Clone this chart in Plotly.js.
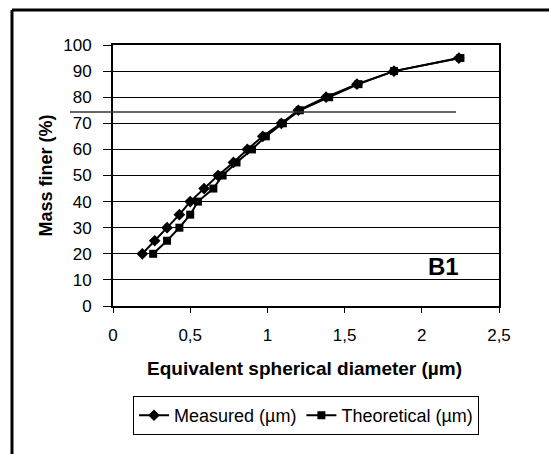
<!DOCTYPE html>
<html>
<head>
<meta charset="utf-8">
<script src="https://cdn.plot.ly/plotly-3.0.1.min.js"></script>
<style>
html,body{margin:0;padding:0;background:#fff;}
#chart{width:549px;height:454px;}
</style>
</head>
<body>
<div id="chart"></div>
<script>
var massFiner = [20,25,30,35,40,45,50,55,60,65,70,75,80,85,90,95];
var measuredDiam = [0.19,0.27,0.35,0.43,0.50,0.59,0.68,0.78,0.87,0.97,1.09,1.20,1.38,1.58,1.82,2.24];
var theoreticalDiam = [0.26,0.35,0.43,0.50,0.55,0.65,0.71,0.80,0.90,0.99,1.10,1.21,1.40,1.59,1.82,2.25];
var xTickVals = [0,0.5,1,1.5,2,2.5];
var xTickText = ['0','0,5','1','1,5','2','2,5'];
var yTickVals = [0,10,20,30,40,50,60,70,80,90,100];

var font = {family:'Liberation Sans, Arial, sans-serif', color:'#000'};

var traces = [
  {x: measuredDiam, y: massFiner, name:'Measured (µm)', type:'scatter', mode:'lines+markers',
   line:{color:'#000', width:2}, marker:{symbol:'diamond', size:9, color:'#000'}},
  {x: theoreticalDiam, y: massFiner, name:'Theoretical (µm)', type:'scatter', mode:'lines+markers',
   line:{color:'#000', width:2}, marker:{symbol:'square', size:8, color:'#000'}}
];

var layout = {
  width:549, height:454,
  margin:{l:113, r:50, t:45, b:148},
  paper_bgcolor:'#fff', plot_bgcolor:'#fff',
  font: Object.assign({size:17}, font),
  showlegend:true,
  legend:{orientation:'h', x:0.5, xanchor:'center', y:-0.345, yanchor:'top',
    bordercolor:'#000', borderwidth:1, font:Object.assign({size:18}, font),
    tracegroupgap:0},
  xaxis:{range:[0,2.5], tickvals:xTickVals, ticktext:xTickText,
    showgrid:false, zeroline:false, showline:true, linecolor:'#000', linewidth:2, mirror:true,
    ticks:'outside', ticklen:5, tickcolor:'#000', tickwidth:1, ticklabelstandoff:8,
    tickfont:Object.assign({size:17}, font)},
  yaxis:{range:[0,100], tickvals:yTickVals,
    showgrid:true, gridcolor:'#000', gridwidth:1, zeroline:false,
    showline:true, linecolor:'#000', linewidth:2, mirror:true,
    ticks:'outside', ticklen:8, tickcolor:'#000', tickwidth:1, ticklabelstandoff:8,
    tickfont:Object.assign({size:17}, font)},
  annotations:[
    {x:2.14, y:15, xref:'x', yref:'y', text:'<b>B1</b>', showarrow:false,
     font:Object.assign({size:24}, font)},
    {x:0.497, y:-0.241, xref:'paper', yref:'paper', text:'<b>Equivalent spherical diameter (µm)</b>',
     showarrow:false, xanchor:'center', yanchor:'middle', font:Object.assign({size:19}, font)},
    {x:-0.176, y:0.5, xref:'paper', yref:'paper', text:'<b>Mass finer (%)</b>', textangle:-90,
     showarrow:false, xanchor:'center', yanchor:'middle', font:Object.assign({size:18}, font)}
  ],
  shapes:[
    {type:'line', xref:'paper', yref:'paper', x0:-0.2617, x1:-0.2617, y0:-0.6, y1:1.134,
     line:{color:'#000', width:3}},
    {type:'line', xref:'paper', yref:'paper', x0:-0.2617, x1:1.2, y0:1.134, y1:1.134,
     line:{color:'#000', width:3}},
    {type:'line', xref:'paper', yref:'paper', x0:-0.1114, x1:0.8886, y0:0.7433, y1:0.7433,
     line:{color:'#333', width:1.5}}
  ]
};

Plotly.newPlot('chart', traces, layout, {displayModeBar:false, staticPlot:true});
</script>
</body>
</html>
